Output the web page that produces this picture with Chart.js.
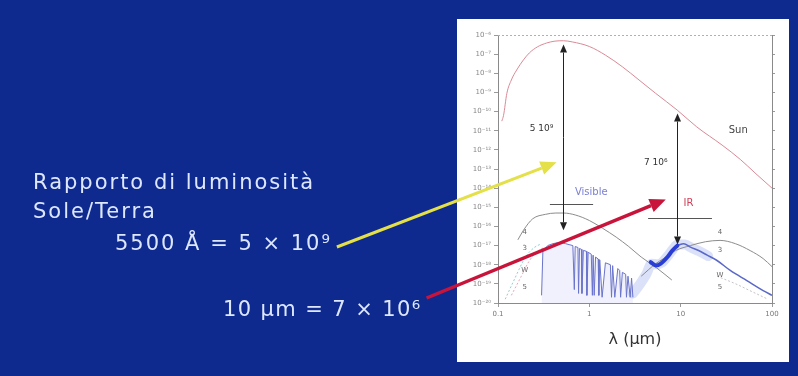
<!DOCTYPE html>
<html>
<head>
<meta charset="utf-8">
<script src="https://cdn.jsdelivr.net/npm/chart.js@4/dist/chart.umd.min.js"></script>
<style>
  html, body { margin: 0; padding: 0; background: #0e2a8e; overflow: hidden; }
  canvas { display: block; }
</style>
</head>
<body>
<canvas id="c" width="798" height="376"></canvas>
<script>
// ---- data: wavelength in µm, flux given as log10 values ----
const sunWavelength = [0.11, 0.115, 0.125, 0.14, 0.16, 0.19, 0.22, 0.27, 0.34, 0.42, 0.52, 0.65, 1.0, 1.5, 2.3, 3.5, 5.3, 9.2, 15, 28.4, 45, 65, 100];
const sunLogFlux    = [-10.5, -10.2, -9.05, -8.35, -7.83, -7.3, -6.94, -6.62, -6.42, -6.32, -6.3, -6.36, -6.6, -7.05, -7.66, -8.35, -9.04, -9.93, -10.8, -11.75, -12.5, -13.2, -14.0];

const reflectedWavelength = [0.165, 0.19, 0.24, 0.33, 0.43, 0.52, 0.7, 1.0, 1.4, 1.97, 2.7, 3.7, 5.4, 8.0];
const reflectedLogFlux    = [-16.7, -16.2, -15.6, -15.37, -15.3, -15.3, -15.4, -15.69, -16.1, -16.56, -17.05, -17.6, -18.15, -18.8];

const thermalWavelength = [3.7, 5.35, 6.5, 8.8, 12.8, 18.7, 27, 39.7, 57.6, 80, 100];
const thermalLogFlux    = [-18.6, -17.94, -17.68, -17.26, -17.0, -16.8, -16.73, -16.9, -17.26, -17.68, -18.1];

const visibleWavelength = [0.30, 0.31, 0.35, 0.40, 0.45, 0.50, 0.55, 0.60, 0.66, 0.685, 0.70, 0.75, 0.762, 0.78, 0.82, 0.83, 0.86, 0.93, 0.94, 0.97, 1.05, 1.08, 1.10, 1.13, 1.17, 1.25, 1.27, 1.30, 1.38, 1.50, 1.60, 1.70, 1.75, 1.80, 1.90, 2.05, 2.15, 2.20, 2.30, 2.50, 2.55, 2.65, 2.80, 2.90, 3.00];
const visibleLogFlux    = [-19.6, -17.3, -17.0, -16.9, -16.85, -16.85, -16.9, -16.95, -17.0, -19.3, -17.05, -17.1, -19.5, -17.15, -17.2, -19.5, -17.25, -17.3, -19.6, -17.35, -17.45, -19.6, -17.5, -19.6, -17.6, -17.7, -19.6, -17.75, -19.7, -17.9, -17.95, -18.0, -19.7, -18.05, -19.7, -18.2, -18.3, -19.7, -18.4, -18.5, -19.7, -18.6, -19.7, -18.7, -19.7];

const irHaloWavelength = [3.0, 3.6, 4.2, 4.8, 5.5, 6.2, 7.2, 8.2, 9.3, 11, 13, 16, 20];
const irHaloLogFlux    = [-19.5, -19.0, -18.5, -17.95, -17.98, -17.9, -17.55, -17.2, -16.95, -16.95, -17.1, -17.3, -17.55];

const ozoneBandWavelength = [4.7, 5.35, 6.06, 7.17, 8.12, 9.2];
const ozoneBandLogFlux    = [-17.87, -18.04, -17.94, -17.6, -17.26, -17.0];

const farIrWavelength = [9.2, 10.8, 12.8, 15.7, 19.5, 25, 34.9, 53, 80, 100];
const farIrLogFlux    = [-17.0, -16.9, -17.08, -17.26, -17.5, -17.78, -18.3, -18.83, -19.35, -19.6];

const uvCyanWavelength = [0.12, 0.15, 0.2, 0.25, 0.3];
const uvCyanLogFlux    = [-19.8, -18.8, -17.6, -17.1, -16.9];
const uvPinkWavelength = [0.14, 0.18, 0.22, 0.27, 0.32];
const uvPinkLogFlux    = [-19.6, -18.6, -17.8, -17.3, -17.1];
const farTailWavelength = [25, 40, 60, 90];
const farTailLogFlux    = [-18.6, -19.0, -19.4, -19.8];

// axis ticks
const xTickValues = [0.1, 1, 10, 100];
const xTickLabels = ['0.1', '1', '10', '100'];
const yTickExponents = [-20, -19, -18, -17, -16, -15, -14, -13, -12, -11, -10, -9, -8, -7, -6];

// Sun/Earth brightness ratios marked on the plot
const ratioWavelength = [0.52, 9.2];
const ratioTopLogFlux = [-6.5, -10.1];
const ratioMantissa = [5, 7];
const ratioExponent = [9, 6];
const ratioSideText = ['5500 Å', '10 μm'];
const ratioLabelLogFlux = [-10.87, -12.65];
const ratioLabelWavelength = [0.3, 5.35];

// spectral bands
const bandNames = ['Visible', 'IR'];
const bandFrom = [0.37, 4.4];
const bandTo = [1.1, 22];
const bandLogFlux = [-14.85, -15.58];
const bandLabelWavelength = [1.05, 12.2];
const bandLabelLogFlux = [-14.2, -14.8];

// small curve tags
const tagText = ['4', '3', 'W', '5', '4', '3', 'W', '5'];
const tagWavelength = [0.196, 0.196, 0.196, 0.196, 27, 27, 27, 27];
const tagLogFlux = [-16.3, -17.15, -18.3, -19.18, -16.3, -17.26, -18.57, -19.18];

const captionLines = ['Rapporto di luminosità', 'Sole/Terra'];
// arrow tips from the ratio lines into the plot
const pointerWavelength = [0.438, 6.87];
const pointerLogFlux = [-12.65, -14.59];

const SUP = {'0':'⁰','1':'¹','2':'²','3':'³','4':'⁴','5':'⁵','6':'⁶','7':'⁷','8':'⁸','9':'⁹','-':'⁻'};
const sup = s => String(s).split('').map(c => SUP[c] || c).join('');
const pts = (xs, logs) => xs.map((x, i) => ({ x, y: Math.pow(10, logs[i]) }));

const PANEL = { x: 457, y: 19, w: 332, h: 343 };
const SLIDE_BLUE = '#0e2a8e';
const TEXT_COLOR = '#dde7ff';

function arrow(ctx, x1, y1, x2, y2, color, lw, headLen, headW) {
  const a = Math.atan2(y2 - y1, x2 - x1);
  const bx = x2 - headLen * Math.cos(a), by = y2 - headLen * Math.sin(a);
  ctx.strokeStyle = color; ctx.fillStyle = color; ctx.lineWidth = lw;
  ctx.beginPath(); ctx.moveTo(x1, y1); ctx.lineTo(bx, by); ctx.stroke();
  ctx.beginPath();
  ctx.moveTo(x2, y2);
  ctx.lineTo(bx + headW / 2 * Math.sin(a), by - headW / 2 * Math.cos(a));
  ctx.lineTo(bx - headW / 2 * Math.sin(a), by + headW / 2 * Math.cos(a));
  ctx.closePath(); ctx.fill();
}

const slidePlugin = {
  id: 'slide',
  beforeDraw(chart) {
    const { ctx, width, height } = chart;
    ctx.save();
    ctx.fillStyle = SLIDE_BLUE;
    ctx.fillRect(0, 0, width, height);
    ctx.fillStyle = '#ffffff';
    ctx.fillRect(PANEL.x, PANEL.y, PANEL.w, PANEL.h);
    ctx.restore();
  },
  afterDatasetsDraw(chart) {
    const { ctx, chartArea } = chart;
    const xs = chart.scales.x, ys = chart.scales.y;
    const px = v => xs.getPixelForValue(v);
    const py = l => ys.getPixelForValue(Math.pow(10, l));
    ctx.save();
    // dotted top edge of the frame
    ctx.strokeStyle = '#b0b0b0'; ctx.lineWidth = 1; ctx.setLineDash([2, 2]);
    ctx.beginPath(); ctx.moveTo(chartArea.left, chartArea.top + 0.5); ctx.lineTo(chartArea.right, chartArea.top + 0.5); ctx.stroke();
    ctx.setLineDash([]);

    // band markers
    bandNames.forEach((name, i) => {
      ctx.strokeStyle = '#555'; ctx.lineWidth = 1;
      const y = Math.round(py(bandLogFlux[i])) + 0.5;
      ctx.beginPath(); ctx.moveTo(px(bandFrom[i]), y); ctx.lineTo(px(bandTo[i]), y); ctx.stroke();
      ctx.fillStyle = i === 0 ? '#7b80d4' : '#d0405a';
      ctx.font = '10px "DejaVu Sans"'; ctx.textAlign = 'center'; ctx.textBaseline = 'middle';
      ctx.fillText(name, px(bandLabelWavelength[i]), py(bandLabelLogFlux[i]));
    });

    // Sun/Earth ratio double arrows
    ratioWavelength.forEach((w, i) => {
      const x = Math.round(px(w)) + 0.5;
      const topL = ratioTopLogFlux[i];
      const botL = topL - Math.log10(ratioMantissa[i] * Math.pow(10, ratioExponent[i]));
      const y1 = py(topL), y2 = py(botL);
      arrow(ctx, x, (y1 + y2) / 2, x, y1, '#222', 1, 8, 7);
      arrow(ctx, x, (y1 + y2) / 2, x, y2, '#222', 1, 8, 7);
      ctx.fillStyle = '#333'; ctx.font = '9px "DejaVu Sans"'; ctx.textAlign = 'center'; ctx.textBaseline = 'middle';
      ctx.fillText(ratioMantissa[i] + ' 10' + sup(ratioExponent[i]), px(ratioLabelWavelength[i]), py(ratioLabelLogFlux[i]));
    });

    ctx.fillStyle = '#444'; ctx.font = '10px "DejaVu Sans"';
    ctx.fillText('Sun', px(42.7), py(-10.97));

    ctx.font = '7px "DejaVu Sans"'; ctx.fillStyle = '#666';
    tagText.forEach((t, i) => ctx.fillText(t, px(tagWavelength[i]), py(tagLogFlux[i])));
    ctx.restore();
  },
  afterDraw(chart) {
    const { ctx } = chart;
    const xs = chart.scales.x, ys = chart.scales.y;
    ctx.save();
    ctx.fillStyle = TEXT_COLOR;
    ctx.font = '21px "DejaVu Sans"';
    ctx.textAlign = 'left'; ctx.textBaseline = 'alphabetic';
    const hasSpacing = 'letterSpacing' in ctx;
    if (hasSpacing) ctx.letterSpacing = '2px';
    ctx.fillText(captionLines[0], 33, 189);
    ctx.fillText(captionLines[1], 33, 218);

    const lineX = [115, 223], lineBase = [250, 316];
    const spacing = ['2px', '1.4px'];
    const tailDy = [-3, -18];
    const colors = ['#e4e048', '#c8143a'];
    const ends = [];
    ratioSideText.forEach((t, i) => {
      if (hasSpacing) ctx.letterSpacing = spacing[i];
      const s = `${t} = ${ratioMantissa[i]} × 10${sup(ratioExponent[i])}`;
      ctx.fillText(s, lineX[i], lineBase[i]);
      ends.push(lineX[i] + ctx.measureText(s).width);
    });
    if (hasSpacing) ctx.letterSpacing = '0px';
    ratioSideText.forEach((t, i) => {
      const tx = xs.getPixelForValue(pointerWavelength[i]);
      const ty = ys.getPixelForValue(Math.pow(10, pointerLogFlux[i]));
      arrow(ctx, ends[i] + 5, lineBase[i] + tailDy[i], tx, ty, colors[i], i === 0 ? 3 : 3.5, 16, 14);
    });
    ctx.restore();
  }
};

const line = (data, color, width, extra) => Object.assign({
  data, borderColor: color, borderWidth: width, pointRadius: 0, fill: false,
  cubicInterpolationMode: 'monotone'
}, extra || {});

Chart.defaults.font.family = '"DejaVu Sans", sans-serif';

new Chart(document.getElementById('c'), {
  type: 'line',
  data: {
    datasets: [
      line(pts(irHaloWavelength, irHaloLogFlux), 'rgba(150,168,238,0.35)', 10, { order: 10, borderCapStyle: 'round' }),
      line(pts(visibleWavelength, visibleLogFlux), '#6a74cc', 1, { order: 9, tension: 0, cubicInterpolationMode: 'default', fill: 'start', backgroundColor: 'rgba(170,176,236,0.18)' }),
      line(pts(uvCyanWavelength, uvCyanLogFlux), '#86d2dc', 1, { order: 8, borderDash: [2, 2] }),
      line(pts(uvPinkWavelength, uvPinkLogFlux), '#eaa6b6', 1, { order: 8, borderDash: [2, 2] }),
      line(pts(farTailWavelength, farTailLogFlux), '#c4c4c4', 1, { order: 8, borderDash: [2, 2] }),
      line(pts(reflectedWavelength, reflectedLogFlux), '#8c8c8c', 1, { order: 7 }),
      line(pts(thermalWavelength, thermalLogFlux), '#8c8c8c', 1, { order: 7 }),
      line(pts(farIrWavelength, farIrLogFlux), '#5a68c8', 1.5, { order: 6 }),
      line(pts(ozoneBandWavelength, ozoneBandLogFlux), '#2a3ed6', 4, { order: 5, borderCapStyle: 'round' }),
      line(pts(sunWavelength, sunLogFlux), '#da8a96', 1, { order: 4 })
    ]
  },
  options: {
    responsive: false,
    devicePixelRatio: 1,
    animation: false,
    events: [],
    layout: { padding: { left: PANEL.x + 1, top: 35, right: 22, bottom: 23 } },
    plugins: { legend: { display: false }, tooltip: { enabled: false } },
    scales: {
      x: {
        type: 'logarithmic', min: 0.1, max: 100,
        afterBuildTicks: s => { s.ticks = xTickValues.map(v => ({ value: v, major: true })); },
        afterFit: s => { s.height = 50; },
        ticks: { callback: (v, i) => xTickLabels[i], font: { size: 7 }, color: '#777', padding: 3, maxRotation: 0, autoSkip: false },
        grid: { drawOnChartArea: false, drawTicks: true, tickLength: 4, color: '#9a9a9a' },
        border: { display: true, color: '#8a8a8a', width: 1 },
        title: { display: true, text: 'λ (μm)', font: { size: 16 }, color: '#333', padding: { top: 4, bottom: 4 } }
      },
      y: {
        type: 'logarithmic', min: 1e-20, max: 1e-6,
        afterBuildTicks: s => { s.ticks = yTickExponents.map(e => ({ value: Math.pow(10, e), major: true })); },
        afterFit: s => { s.width = 40; },
        ticks: { callback: (v, i) => '10' + sup(yTickExponents[i]), font: { size: 7 }, color: '#888', padding: 3, autoSkip: false },
        grid: { drawOnChartArea: false, drawTicks: true, tickLength: 4, color: '#9a9a9a' },
        border: { display: true, color: '#8a8a8a', width: 1 }
      },
      y2: {
        type: 'logarithmic', position: 'right', min: 1e-20, max: 1e-6,
        afterBuildTicks: s => { s.ticks = yTickExponents.map(e => ({ value: Math.pow(10, e), major: true })); },
        afterFit: s => { s.width = 4; },
        ticks: { display: false },
        grid: { drawOnChartArea: false, drawTicks: true, tickLength: 3, color: '#9a9a9a' },
        border: { display: true, color: '#8a8a8a', width: 1 }
      }
    }
  },
  plugins: [slidePlugin]
});
</script>
</body>
</html>
